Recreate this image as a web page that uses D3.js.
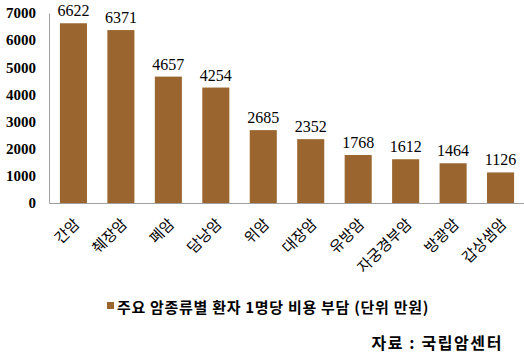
<!DOCTYPE html>
<html><head><meta charset="utf-8">
<script src="https://cdn.jsdelivr.net/npm/d3@7"></script>
<style>body{margin:0;background:#fff}svg{display:block}</style>
</head><body><svg id="c" width="524" height="354"></svg>
<script>
const categories = ["간암","췌장암","폐암","담낭암","위암","대장암","유방암","자궁경부암","방광암","갑상샘암"];
const values = [6622,6371,4657,4254,2685,2352,1768,1612,1464,1126];
const yTicks = [0,1000,2000,3000,4000,5000,6000,7000];
const legendLabel = "주요 암종류별 환자 1명당 비용 부담 (단위 만원)";
const sourceLabel = "자료 : 국립암센터";

const svg = d3.select("#c");
const color = "#9a652e";
const x = d3.scaleBand().domain(categories).range([49, 525]).paddingInner(0.43).paddingOuter(0.23);
const y = d3.scaleLinear().domain([0,7000]).range([203, 13]);

const yAxis = svg.append("g").attr("transform","translate(49,0)")
  .call(d3.axisLeft(y).tickValues(yTicks).tickSize(0).tickPadding(13).tickFormat(d3.format("d")));
yAxis.select(".domain").attr("stroke","#a0a0a0");
yAxis.selectAll("text").attr("font-family","Liberation Serif").attr("font-weight","bold").attr("font-size",15).attr("fill","#000");

svg.append("g").selectAll("rect").data(values).join("rect")
  .attr("x",(d,i)=>x(categories[i])).attr("width",x.bandwidth())
  .attr("y",d=>y(d)).attr("height",d=>y(0)-y(d)).attr("fill",color);

const xAxis = svg.append("g").attr("transform","translate(0,203)")
  .call(d3.axisBottom(x).tickSize(0).tickPadding(0));
xAxis.select(".domain").attr("stroke","#a0a0a0");
xAxis.selectAll("text")
  .attr("font-family","Noto Sans CJK KR").attr("font-size",15).attr("fill","#000")
  .attr("text-anchor","end").attr("dy",0).attr("y",0)
  .attr("transform","translate(7,22) rotate(-45)");

svg.append("g").selectAll("text").data(values).join("text")
  .attr("x",(d,i)=>x(categories[i])+x.bandwidth()/2).attr("y",d=>y(d)-7)
  .attr("text-anchor","middle").attr("font-family","Liberation Serif").attr("font-size",16).attr("fill","#000")
  .text(d=>d);

svg.append("rect").attr("x",107).attr("y",302).attr("width",7).attr("height",7).attr("fill",color);
svg.append("text").attr("x",117).attr("y",313).attr("font-family","Noto Sans CJK KR").attr("font-weight","bold")
  .attr("font-size",15).attr("letter-spacing",0.7).attr("fill","#000").text(legendLabel);
svg.append("text").attr("x",503).attr("y",349).attr("text-anchor","end").attr("font-family","Noto Sans CJK KR").attr("font-weight","bold")
  .attr("font-size",16).attr("letter-spacing",1.6).attr("fill","#000").text(sourceLabel);
</script></body></html>
